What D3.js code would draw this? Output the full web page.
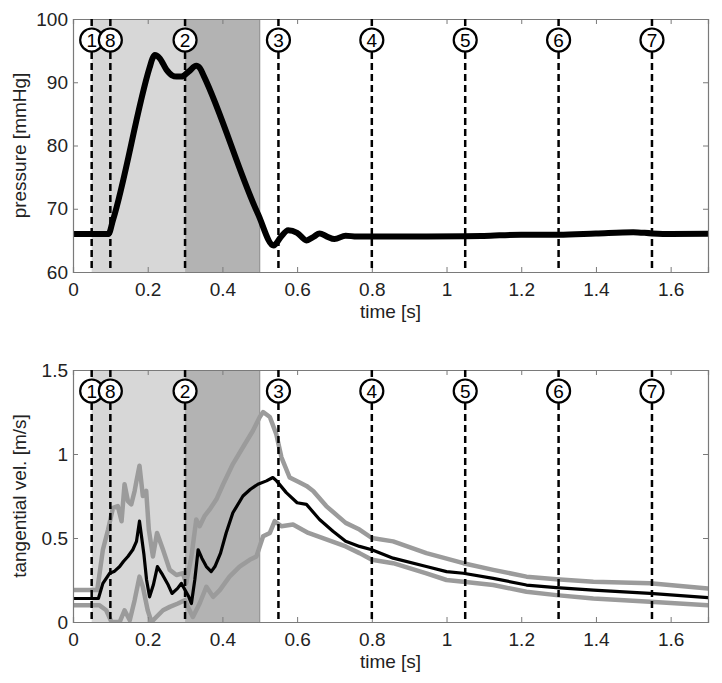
<!DOCTYPE html>
<html><head><meta charset="utf-8">
<script src="https://cdn.jsdelivr.net/npm/d3@7"></script>
<style>body{margin:0;background:#fff}svg{display:block}text{font-family:"Liberation Sans",Arial,Helvetica,sans-serif}</style>
</head><body>
<svg id="chart" width="722" height="683"></svg>
<script>
// ---- data ----
const xTicks = [0, 0.2, 0.4, 0.6, 0.8, 1, 1.2, 1.4, 1.6];
const pTicks = [60, 70, 80, 90, 100];
const vTicks = [0, 0.5, 1, 1.5];
const phaseLight = [0.05, 0.3];
const phaseDark = [0.3, 0.5];
const eventTimes = [0.05, 0.1, 0.3, 0.55, 0.8, 1.05, 1.3, 1.55];
const eventLabels = ["1", "8", "2", "3", "4", "5", "6", "7"];

const pressureT = [0, 0.095, 0.107, 0.205, 0.213, 0.219, 0.232, 0.25, 0.265, 0.277, 0.29, 0.31, 0.33, 0.34, 0.35, 0.495, 0.537, 0.556, 0.576, 0.6, 0.625, 0.645, 0.66, 0.68, 0.70, 0.73, 0.76, 0.9, 1.05, 1.1, 1.2, 1.3, 1.4, 1.5, 1.55, 1.6, 1.7];
const pressureP = [66, 66, 68.2, 92.3, 93.8, 94.3, 93.8, 92, 91.1, 90.9, 90.9, 91.7, 92.6, 92.2, 91.0, 69.2, 64.2, 65.5, 66.6, 66.2, 65.0, 65.6, 66.1, 65.6, 65.2, 65.75, 65.6, 65.6, 65.65, 65.7, 65.9, 65.9, 66.1, 66.3, 66.1, 66.0, 66.05];

const meanT = [0, 0.068, 0.08, 0.098, 0.11, 0.125, 0.135, 0.147, 0.16, 0.17, 0.178, 0.184, 0.19, 0.197, 0.205, 0.215, 0.226, 0.24, 0.255, 0.265, 0.28, 0.29, 0.3, 0.31, 0.317, 0.326, 0.335, 0.345, 0.357, 0.37, 0.38, 0.395, 0.41, 0.428, 0.455, 0.475, 0.495, 0.518, 0.535, 0.545, 0.571, 0.6, 0.625, 0.66, 0.696, 0.73, 0.767, 0.8, 0.857, 0.946, 1.0, 1.045, 1.125, 1.214, 1.294, 1.393, 1.545, 1.7];
const meanV = [0.14, 0.14, 0.23, 0.29, 0.30, 0.33, 0.36, 0.39, 0.43, 0.48, 0.60, 0.50, 0.40, 0.25, 0.15, 0.22, 0.33, 0.28, 0.22, 0.17, 0.20, 0.23, 0.19, 0.15, 0.11, 0.25, 0.43, 0.38, 0.33, 0.30, 0.33, 0.41, 0.53, 0.65, 0.75, 0.79, 0.82, 0.84, 0.86, 0.84, 0.77, 0.71, 0.70, 0.61, 0.54, 0.48, 0.45, 0.43, 0.38, 0.33, 0.30, 0.29, 0.26, 0.22, 0.205, 0.19, 0.17, 0.145];

const upperT = [0, 0.065, 0.08, 0.094, 0.107, 0.12, 0.13, 0.138, 0.147, 0.156, 0.165, 0.17, 0.178, 0.187, 0.196, 0.203, 0.214, 0.225, 0.241, 0.259, 0.277, 0.294, 0.303, 0.317, 0.33, 0.339, 0.352, 0.366, 0.384, 0.402, 0.428, 0.455, 0.482, 0.5, 0.509, 0.527, 0.544, 0.558, 0.58, 0.607, 0.625, 0.643, 0.678, 0.73, 0.767, 0.8, 0.857, 0.946, 1.045, 1.125, 1.214, 1.294, 1.393, 1.545, 1.7];
const upperV = [0.19, 0.19, 0.43, 0.55, 0.68, 0.69, 0.60, 0.82, 0.72, 0.70, 0.78, 0.84, 0.93, 0.75, 0.78, 0.55, 0.39, 0.53, 0.43, 0.31, 0.28, 0.29, 0.23, 0.39, 0.61, 0.57, 0.63, 0.67, 0.73, 0.82, 0.94, 1.04, 1.14, 1.22, 1.25, 1.22, 1.12, 0.98, 0.86, 0.83, 0.81, 0.78, 0.69, 0.59, 0.55, 0.50, 0.48, 0.41, 0.35, 0.31, 0.27, 0.255, 0.24, 0.23, 0.20];

const lowerT = [0, 0.07, 0.089, 0.103, 0.125, 0.138, 0.152, 0.165, 0.178, 0.187, 0.2, 0.21, 0.223, 0.241, 0.259, 0.281, 0.299, 0.312, 0.321, 0.339, 0.357, 0.375, 0.393, 0.419, 0.446, 0.473, 0.491, 0.509, 0.527, 0.54, 0.558, 0.589, 0.63, 0.68, 0.73, 0.767, 0.8, 0.857, 0.946, 1.0, 1.045, 1.125, 1.214, 1.294, 1.393, 1.545, 1.7];
const lowerV = [0.10, 0.10, 0.07, 0.0, 0.0, 0.07, 0.01, 0.13, 0.27, 0.21, 0.07, 0.0, 0.03, 0.07, 0.09, 0.11, 0.13, 0.07, 0.03, 0.11, 0.21, 0.15, 0.19, 0.27, 0.33, 0.37, 0.39, 0.51, 0.53, 0.60, 0.57, 0.58, 0.53, 0.49, 0.45, 0.41, 0.37, 0.35, 0.29, 0.25, 0.24, 0.22, 0.18, 0.16, 0.14, 0.12, 0.10];

// ---- drawing ----
const svg = d3.select("#chart");
const L = 73, R = 708;
const x = d3.scaleLinear().domain([0, 1.7]).range([L, R]);

function panel(id, top, bottom, yDomain, yTicksArr, yLabel, series) {
  const y = d3.scaleLinear().domain(yDomain).range([bottom, top]);
  const g = svg.append("g");
  g.append("clipPath").attr("id", "clip" + id).append("rect")
    .attr("x", L).attr("y", top).attr("width", R - L).attr("height", bottom - top);
  const plot = g.append("g").attr("clip-path", `url(#clip${id})`);
  plot.append("rect").attr("x", x(phaseLight[0])).attr("y", top)
    .attr("width", x(phaseLight[1]) - x(phaseLight[0])).attr("height", bottom - top).attr("fill", "#d7d7d7");
  plot.append("rect").attr("x", x(phaseDark[0])).attr("y", top)
    .attr("width", x(phaseDark[1]) - x(phaseDark[0])).attr("height", bottom - top).attr("fill", "#b3b3b3");
  plot.append("line").attr("x1", x(phaseDark[1])).attr("x2", x(phaseDark[1]))
    .attr("y1", top).attr("y2", bottom).attr("stroke", "#8a8a8a").attr("stroke-width", 1);

  series.forEach(s => {
    const pts = s.t.map((t, i) => [t, s.v[i]]);
    plot.append("path").datum(pts)
      .attr("d", d3.line().x(d => x(d[0])).y(d => y(d[1])).curve(s.curve))
      .attr("fill", "none").attr("stroke", s.color).attr("stroke-width", s.w)
      .attr("stroke-linejoin", "round").attr("stroke-linecap", "round");
  });

  // axes (box with inward ticks)
  const axB = g.append("g").attr("transform", `translate(0,${bottom})`)
    .call(d3.axisBottom(x).tickValues(xTicks).tickSize(-5).tickPadding(11).tickFormat(d3.format("")));
  const axT = g.append("g").attr("transform", `translate(0,${top})`)
    .call(d3.axisTop(x).tickValues(xTicks).tickSize(-5).tickFormat(""));
  const axLft = g.append("g").attr("transform", `translate(${L},0)`)
    .call(d3.axisLeft(y).tickValues(yTicksArr).tickSize(-5).tickPadding(5).tickFormat(d3.format("")));
  const axRt = g.append("g").attr("transform", `translate(${R},0)`)
    .call(d3.axisRight(y).tickValues(yTicksArr).tickSize(-5).tickFormat(""));
  [axB, axT, axLft, axRt].forEach(a => {
    a.select(".domain").attr("stroke", "#7a7a7a").attr("stroke-width", 1.2);
    a.selectAll(".tick line").attr("stroke", "#7a7a7a");
    a.selectAll("text").attr("font-size", 19).attr("fill", "#222")
      .attr("font-family", '"Liberation Sans",Arial,sans-serif');
  });
  axB.selectAll("text").attr("dy", "0.71em");

  // event markers
  const ev = g.append("g");
  eventTimes.forEach((t, i) => {
    ev.append("line").attr("x1", x(t)).attr("x2", x(t)).attr("y1", top).attr("y2", bottom)
      .attr("stroke", "#000").attr("stroke-width", 2.5).attr("stroke-dasharray", "7,4");
  });
  eventTimes.forEach((t, i) => {
    ev.append("circle").attr("cx", x(t)).attr("cy", top + 21).attr("r", 11.5)
      .attr("fill", "#fff").attr("stroke", "#000").attr("stroke-width", 2.2);
    ev.append("text").attr("x", x(t)).attr("y", top + 21).attr("dy", "0.36em")
      .attr("text-anchor", "middle").attr("font-size", 19).attr("fill", "#000").text(eventLabels[i]);
  });

  g.append("text").attr("x", (L + R) / 2).attr("y", bottom + 46).attr("text-anchor", "middle")
    .attr("font-size", 19).attr("fill", "#222").text("time [s]");
  g.append("text").attr("transform", `translate(26,${(top + bottom) / 2}) rotate(-90)`)
    .attr("text-anchor", "middle").attr("font-size", 19).attr("fill", "#222").text(yLabel);
}

panel("p", 19, 272, [60, 100], pTicks, "pressure [mmHg]",
  [{t: pressureT, v: pressureP, color: "#000", w: 6, curve: d3.curveMonotoneX}]);
panel("v", 370, 622, [0, 1.5], vTicks, "tangential vel. [m/s]",
  [{t: upperT, v: upperV, color: "#9b9b9b", w: 4.5, curve: d3.curveLinear},
   {t: lowerT, v: lowerV, color: "#9b9b9b", w: 4.5, curve: d3.curveLinear},
   {t: meanT, v: meanV, color: "#000", w: 3.2, curve: d3.curveLinear}]);
</script>
</body></html>
